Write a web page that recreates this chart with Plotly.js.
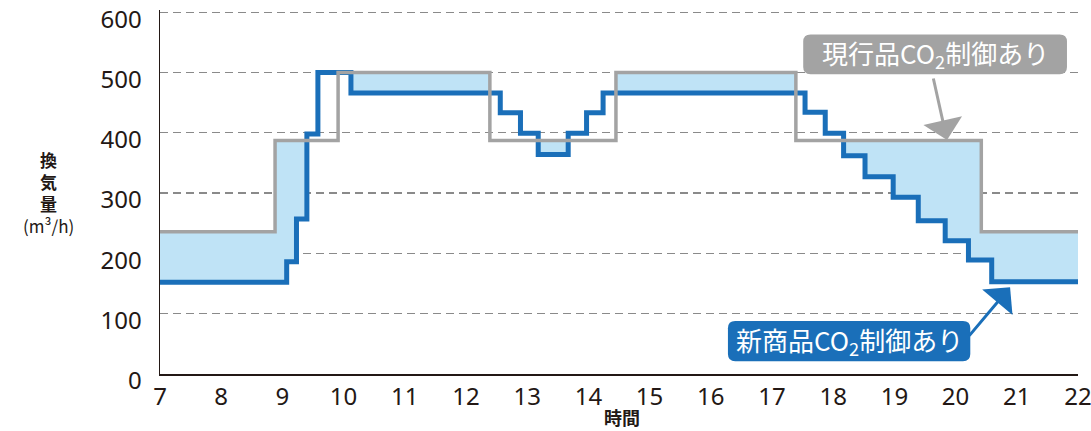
<!DOCTYPE html>
<html>
<head>
<meta charset="utf-8">
<script src="https://cdn.plot.ly/plotly-3.0.1.min.js"></script>
<style>html,body{margin:0;padding:0;background:#fff;}#chart{width:1091px;height:431px;}</style>
</head>
<body>
<div id="chart"></div>
<script>
// Current product (現行品) step breakpoints (hour) and ventilation volume (m3/h)
const currentHours  = [7, 8.88, 9.91, 12.39, 14.45, 17.39, 20.42, 22];
const currentValues = [236, 387, 500, 387, 500, 387, 236, 236];

// New product (新商品) step breakpoints and values
const newHours  = [7, 9.07, 9.23, 9.40, 9.58, 10.12, 12.56, 12.89, 13.18, 13.67, 13.97, 14.24,
                   17.54, 17.87, 18.17, 18.52, 18.98, 19.39, 19.83, 20.21, 20.59, 22];
const newValues = [152, 186, 257, 398, 500, 466, 433, 399, 364, 399, 433, 466,
                   434, 399, 362, 327, 293, 254, 221, 189, 153, 153];

const xTicks = [7,8,9,10,11,12,13,14,15,16,17,18,19,20,21,22];
const yTicks = [0,100,200,300,400,500,600];

const labelCurrent = '現行品CO<sub>2</sub>制御あり';
const labelNew = '新商品CO<sub>2</sub>制御あり';
const xTitle = '時間';
const yTitle = '<b>換<br>気<br>量</b><br>(m³/h)';

// lower envelope (min of the two step functions) so fill only shows where current > new
function stepVal(xs, vs, t){ let v = vs[0]; for (let i=0;i<xs.length;i++){ if (xs[i] <= t) v = vs[i]; } return v; }
const allX = Array.from(new Set(currentHours.concat(newHours))).sort((a,b)=>a-b);
const envY = allX.map(t => Math.min(stepVal(currentHours,currentValues,t), stepVal(newHours,newValues,t)));

const GRAY = '#a3a3a3', BLUE = '#1a6fb9', FILL = '#bfe3f6', DARK = '#231815';
const FONT = '"Noto Sans CJK JP", "Noto Sans", sans-serif';
const NUMFONT = '"Noto Sans", "Open Sans", sans-serif';

const traces = [
  {x: allX, y: envY, mode:'lines', line:{shape:'hv', width:0}, hoverinfo:'skip', showlegend:false},
  {x: currentHours, y: currentValues, mode:'lines', line:{shape:'hv', width:0}, fill:'tonexty', fillcolor: FILL, hoverinfo:'skip', showlegend:false},
  {x: newHours, y: newValues, mode:'lines', line:{shape:'hv', width:5, color: BLUE}, name:'新商品', showlegend:false},
  {x: currentHours, y: currentValues, mode:'lines', line:{shape:'hv', width:3.5, color: GRAY}, name:'現行品', showlegend:false}
];

function roundRect(x0, x1, y0, y1, rx, ry){
  return `M${x0+rx},${y0} L${x1-rx},${y0} Q${x1},${y0} ${x1},${y0+ry} L${x1},${y1-ry} Q${x1},${y1} ${x1-rx},${y1} ` +
         `L${x0+rx},${y1} Q${x0},${y1} ${x0},${y1-ry} L${x0},${y0+ry} Q${x0},${y0} ${x0+rx},${y0} Z`;
}

const layout = {
  width: 1091, height: 431,
  margin: {l:160, r:13, t:10, b:57},
  paper_bgcolor:'#fff', plot_bgcolor:'#fff',
  font: {family: FONT, color: DARK},
  xaxis: {
    range:[7,22], tickvals: xTicks, ticktext: xTicks.map(String),
    showline:true, linecolor: DARK, linewidth:1.5, showgrid:false, zeroline:false, ticks:'',
    tickfont:{size:24, color:DARK, family:NUMFONT}, ticklabelstandoff: 1, ticklabeloverflow:'allow', fixedrange:true
  },
  yaxis: {
    range:[0,603.5], tickvals: yTicks, ticktext: yTicks.map(String),
    showline:true, linecolor: DARK, linewidth:1.5, showgrid:true, gridcolor:'#8a8a8a', gridwidth:1.2,
    griddash:'8px,5px', zeroline:false, ticks:'', tickfont:{size:24, color:DARK, family:NUMFONT},
    ticklabelstandoff: 12, ticklabelshift: 7, ticklabeloverflow:'allow', fixedrange:true
  },
  shapes: [
    {type:'path', xref:'x', yref:'y', path: roundRect(17.51, 21.82, 497, 563, 0.12, 12), fillcolor: GRAY, line:{width:0}, layer:'above'},
    {type:'path', xref:'x', yref:'y', path: roundRect(16.28, 20.24, 21, 88, 0.12, 12), fillcolor: BLUE, line:{width:0}, layer:'above'}
  ],
  annotations: [
    {xref:'x', yref:'y', x:19.86, y:388, ax:-14, ay:-63, text:'', showarrow:true, arrowhead:1, arrowsize:2.2, arrowwidth:3, arrowcolor:GRAY},
    {xref:'x', yref:'y', x:20.89, y:144, ax:-42, ay:50, text:'', showarrow:true, arrowhead:1, arrowsize:2.2, arrowwidth:3, arrowcolor:BLUE},
    {xref:'x', yref:'y', x:19.665, y:530, xanchor:'center', yanchor:'middle', text: labelCurrent, showarrow:false, font:{size:26, color:'#fff', family:FONT}},
    {xref:'x', yref:'y', x:18.26, y:54.5, xanchor:'center', yanchor:'middle', text: labelNew, showarrow:false, font:{size:26, color:'#fff', family:FONT}},
    {xref:'paper', yref:'paper', x:(622-160)/918, y:(374-417)/362, xanchor:'center', yanchor:'middle', text:'<b>'+xTitle+'</b>', showarrow:false, font:{size:18, color:DARK, family:FONT}},
    {xref:'paper', yref:'paper', x:(48-160)/918, y:(374-193)/362, xanchor:'center', yanchor:'middle', text: yTitle, showarrow:false, font:{size:17, color:DARK, family:FONT}}
  ]
};

Plotly.newPlot('chart', traces, layout, {displayModeBar:false, staticPlot:true});
</script>
</body>
</html>
